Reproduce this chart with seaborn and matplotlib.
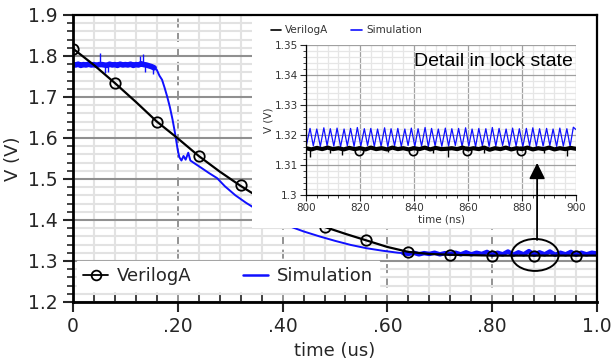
import numpy as np
import matplotlib
matplotlib.use("Agg")
import matplotlib.pyplot as plt
from matplotlib.lines import Line2D
from matplotlib.patches import Rectangle, Ellipse
from matplotlib.ticker import MultipleLocator
import seaborn as sns

# --- dane: glowny wykres (czas w us, napiecie w V) ---
va_t = [0.0, 0.04, 0.08, 0.12, 0.16, 0.20, 0.24, 0.28, 0.32, 0.34, 0.36, 0.40, 0.44,
        0.48, 0.52, 0.56, 0.60, 0.64, 0.68, 0.72, 0.76, 0.80, 0.84, 0.88, 0.92, 0.96, 1.0]
va_v = [1.818, 1.778, 1.734, 1.688, 1.640, 1.599, 1.556, 1.518, 1.483, 1.467, 1.452, 1.424, 1.402,
        1.383, 1.366, 1.350, 1.334, 1.322, 1.317, 1.315, 1.314, 1.313, 1.313, 1.313, 1.313, 1.313, 1.313]
# kolka na krzywej VerilogA
va_mark_t = [0.0, 0.08, 0.16, 0.24, 0.32, 0.48, 0.56, 0.64, 0.72, 0.80, 0.88, 0.96]
va_mark_v = [1.817, 1.734, 1.640, 1.556, 1.484, 1.383, 1.350, 1.322, 1.315, 1.313, 1.313, 1.313]

# symulacja: plaski, zaszumiony odcinek
sim_flat_t = [0.000, 0.005, 0.010, 0.015, 0.020, 0.025, 0.030, 0.035, 0.040, 0.045, 0.050,
              0.055, 0.060, 0.065, 0.070, 0.075, 0.080, 0.085, 0.090, 0.095, 0.100, 0.105,
              0.110, 0.115, 0.120, 0.125, 0.130, 0.135, 0.140, 0.145, 0.150, 0.155]
sim_flat_v = [1.779, 1.778, 1.780, 1.777, 1.779, 1.778, 1.780, 1.778, 1.779, 1.777, 1.779,
              1.779, 1.778, 1.777, 1.780, 1.778, 1.779, 1.777, 1.780, 1.778, 1.779, 1.778,
              1.780, 1.777, 1.779, 1.778, 1.781, 1.779, 1.778, 1.776, 1.774, 1.771]
# pojedyncze szpilki szumu (czas, od, do)
sim_spike_t = [0.052, 0.062, 0.066, 0.128, 0.133, 0.137, 0.152]
sim_spike_lo = [1.780, 1.758, 1.760, 1.780, 1.780, 1.760, 1.756]
sim_spike_hi = [1.808, 1.776, 1.776, 1.800, 1.805, 1.776, 1.772]
# symulacja: spadek
sim_drop_t = [0.155, 0.160, 0.165, 0.170, 0.175, 0.180, 0.185, 0.190, 0.195, 0.200, 0.203, 0.207,
              0.211, 0.215, 0.220, 0.224, 0.232, 0.245, 0.260, 0.275, 0.290, 0.310, 0.330, 0.345,
              0.380, 0.410, 0.440, 0.470, 0.500, 0.530, 0.560, 0.590, 0.620, 0.630]
sim_drop_v = [1.771, 1.766, 1.752, 1.742, 1.722, 1.700, 1.675, 1.645, 1.610, 1.570, 1.553, 1.545,
              1.556, 1.547, 1.564, 1.545, 1.538, 1.527, 1.514, 1.502, 1.482, 1.460, 1.442, 1.430,
              1.405, 1.386, 1.372, 1.360, 1.349, 1.339, 1.331, 1.325, 1.320, 1.319]
# symulacja: stan zatrzasniecia, zaszumiony
sim_lock_t = [0.63, 0.64, 0.65, 0.66, 0.67, 0.68, 0.69, 0.70, 0.71, 0.72, 0.73, 0.74, 0.75, 0.76,
              0.77, 0.78, 0.79, 0.80, 0.81, 0.82, 0.83, 0.84, 0.85, 0.86, 0.87, 0.88, 0.89, 0.90,
              0.91, 0.92, 0.93, 0.94, 0.95, 0.96, 0.97, 0.98, 0.99, 1.00]
sim_lock_v = [1.319, 1.317, 1.320, 1.316, 1.319, 1.317, 1.320, 1.316, 1.319, 1.317, 1.320, 1.316,
              1.321, 1.316, 1.320, 1.317, 1.322, 1.315, 1.320, 1.316, 1.323, 1.315, 1.321, 1.316,
              1.324, 1.315, 1.321, 1.316, 1.323, 1.315, 1.320, 1.316, 1.322, 1.315, 1.320, 1.316,
              1.320, 1.318]

main_xticks = [0.0, 0.2, 0.4, 0.6, 0.8, 1.0]
main_xtick_labels = ["0", ".20", ".40", ".60", ".80", "1.0"]
main_yticks = [1.2, 1.3, 1.4, 1.5, 1.6, 1.7, 1.8, 1.9]
main_ytick_labels = ["1.2", "1.3", "1.4", "1.5", "1.6", "1.7", "1.8", "1.9"]

# --- dane: powiekszenie (czas w ns) ---
in_va_t = [800, 802, 804, 806, 808, 810, 812, 814, 816, 818, 820, 822, 824, 826, 828, 830, 832,
           834, 836, 838, 840, 842, 844, 846, 848, 850, 852, 854, 856, 858, 860, 862, 864, 866,
           868, 870, 872, 874, 876, 878, 880, 882, 884, 886, 888, 890, 892, 894, 896, 898, 900]
in_va_v = [1.3156, 1.3152, 1.3157, 1.3153, 1.3158, 1.3153, 1.3156, 1.3152, 1.3157, 1.3153,
           1.3156, 1.3152, 1.3158, 1.3153, 1.3156, 1.3152, 1.3158, 1.3153, 1.3156, 1.3152,
           1.3156, 1.3153, 1.3158, 1.3152, 1.3157, 1.3153, 1.3154, 1.3156, 1.3153, 1.3158,
           1.3152, 1.3156, 1.3153, 1.3158, 1.3151, 1.3156, 1.3153, 1.3158, 1.3152, 1.3156,
           1.3153, 1.3158, 1.3152, 1.3156, 1.3153, 1.3158, 1.3152, 1.3156, 1.3153, 1.3157, 1.3154]
in_va_mark_t = [819.5, 839.5, 859.5, 879.5]
in_va_mark_v = [1.3147, 1.3147, 1.3147, 1.3147]
in_spike_t = [801.5, 809.0, 813.5, 830.5, 847.0, 852.5, 866.0, 888.0, 896.5]
in_spike_lo = [1.3128, 1.3140, 1.3132, 1.3142, 1.3140, 1.3126, 1.3141, 1.3141, 1.3131]

in_sim_t = [800.0, 801.5, 802.7, 804.0, 805.3, 806.6, 807.8, 809.0, 810.3, 811.5, 812.8, 814.1,
            815.3, 816.5, 817.8, 819.0, 820.3, 821.6, 822.8, 824.0, 825.3, 826.5, 827.8, 829.1,
            830.3, 831.5, 832.8, 834.0, 835.3, 836.6, 837.8, 839.0, 840.3, 841.5, 842.8, 844.1,
            845.3, 846.5, 847.8, 849.0, 850.3, 851.6, 852.8, 854.0, 855.3, 856.5, 857.8, 859.1,
            860.3, 861.5, 862.8, 864.0, 865.3, 866.6, 867.8, 869.0, 870.3, 871.5, 872.8, 874.1,
            875.3, 876.5, 877.8, 879.0, 880.3, 881.6, 882.8, 884.0, 885.3, 886.5, 887.8, 889.1,
            890.3, 891.5, 892.8, 894.0, 895.3, 896.6, 897.8, 899.0, 900.0]
in_sim_v = [1.3160, 1.3222, 1.3164, 1.3220, 1.3162, 1.3224, 1.3165, 1.3221, 1.3163, 1.3223,
            1.3161, 1.3220, 1.3164, 1.3222, 1.3162, 1.3225, 1.3163, 1.3221, 1.3165, 1.3222,
            1.3162, 1.3220, 1.3163, 1.3224, 1.3161, 1.3221, 1.3164, 1.3222, 1.3162, 1.3220,
            1.3165, 1.3223, 1.3162, 1.3221, 1.3163, 1.3225, 1.3161, 1.3222, 1.3164, 1.3220,
            1.3162, 1.3223, 1.3163, 1.3221, 1.3165, 1.3222, 1.3162, 1.3224, 1.3163, 1.3220,
            1.3161, 1.3222, 1.3164, 1.3221, 1.3162, 1.3225, 1.3163, 1.3222, 1.3165, 1.3220,
            1.3162, 1.3223, 1.3163, 1.3221, 1.3161, 1.3222, 1.3164, 1.3224, 1.3162, 1.3221,
            1.3163, 1.3222, 1.3165, 1.3220, 1.3162, 1.3223, 1.3163, 1.3221, 1.3162, 1.3226,
            1.3218]

in_xticks = [800, 820, 840, 860, 880, 900]
in_xtick_labels = ["800", "820", "840", "860", "880", "900"]
in_yticks = [1.30, 1.31, 1.32, 1.33, 1.34, 1.35]
in_ytick_labels = ["1.3", "1.31", "1.32", "1.33", "1.34", "1.35"]

sns.set_style("white")
plt.rcParams['font.family'] = ['DejaVu Sans']

BLUE = '#1010ff'

fig = plt.figure(figsize=(6.13, 3.62), dpi=100)
ax = fig.add_axes([0.119, 0.166, 0.855, 0.7926])

# glowny wykres - symulacja (szum jako grubsza linia)
sns.lineplot(x=sim_flat_t, y=sim_flat_v, ax=ax, color=BLUE, lw=4.0, estimator=None, sort=False, legend=False)
ax.vlines(sim_spike_t, sim_spike_lo, sim_spike_hi, color=BLUE, lw=1.0)
sns.lineplot(x=sim_drop_t, y=sim_drop_v, ax=ax, color=BLUE, lw=1.4, estimator=None, sort=False, legend=False)
sns.lineplot(x=sim_lock_t, y=sim_lock_v, ax=ax, color=BLUE, lw=3.2, estimator=None, sort=False, legend=False)
# VerilogA
sns.lineplot(x=va_t, y=va_v, ax=ax, color='black', lw=1.6, estimator=None, sort=False, legend=False)
ax.plot(va_mark_t, va_mark_v, 'o', markersize=7.5, markerfacecolor='none',
        markeredgecolor='black', markeredgewidth=1.3)

ax.set_xlim(0, 1.0)
ax.set_ylim(1.2, 1.9)
ax.set_xticks(main_xticks)
ax.set_xticklabels(main_xtick_labels)
ax.set_yticks(main_yticks)
ax.set_yticklabels(main_ytick_labels)
ax.xaxis.set_minor_locator(MultipleLocator(0.04))
ax.yaxis.set_minor_locator(MultipleLocator(0.02))
ax.tick_params(axis='both', which='major', labelsize=13.5, direction='out', length=7, width=1.5,
               left=True, bottom=True, pad=4)
ax.tick_params(axis='x', which='minor', direction='in', length=6, width=1.2, bottom=True)
ax.tick_params(axis='y', which='minor', direction='out', length=4, width=1.2, left=True)
ax.set_axisbelow(True)
ax.xaxis.grid(True, which='minor', color='#e2e2e2', lw=1.5)
ax.yaxis.grid(True, which='minor', color='#e2e2e2', lw=1.5)
ax.xaxis.grid(True, which='major', color='#8a8a8a', lw=1.3, linestyle=(0, (5, 3)))
ax.yaxis.grid(True, which='major', color='#909090', lw=1.5)
for s in ['left', 'bottom']:
    ax.spines[s].set_linewidth(2.0)
for s in ['top', 'right']:
    ax.spines[s].set_linewidth(1.6)
for s in ax.spines.values():
    s.set_color('black')
    s.set_zorder(6)
ax.set_xlabel('time (us)', fontsize=13)
ax.set_ylabel('V (V)', fontsize=13, labelpad=4)

# biale tlo pod powiekszeniem
ax.add_patch(Rectangle((0.3416, 1.38), 1.0 - 0.3416, 0.52, facecolor='white', edgecolor='none', zorder=4))

# elipsa wokol fragmentu
ax.add_patch(Ellipse((0.8817, 1.3146), 0.09, 0.078, facecolor='none', edgecolor='black', lw=1.4, zorder=7))

h_va = Line2D([], [], color='black', lw=1.3, marker='o', markersize=7, markerfacecolor='none',
              markeredgewidth=1.3)
h_sim = Line2D([], [], color=BLUE, lw=1.8)
leg = ax.legend([h_va, h_sim], ['VerilogA', 'Simulation'], loc='lower left',
                bbox_to_anchor=(-0.01, 0.005), ncol=2, fontsize=13, frameon=True,
                facecolor='white', edgecolor='white', framealpha=1, fancybox=False,
                handlelength=1.4, handletextpad=0.5, columnspacing=2.8, borderpad=0.35)
leg.set_zorder(8)

# powiekszenie
ax_in = fig.add_axes([0.4992, 0.4613, 0.4405, 0.4144])
ax_in.set_facecolor('white')
sns.lineplot(x=in_sim_t, y=in_sim_v, ax=ax_in, color=BLUE, lw=0.9, estimator=None, sort=False, legend=False)
ax_in.plot(in_va_mark_t, in_va_mark_v, 'o', markersize=6, markerfacecolor='none',
           markeredgecolor='black', markeredgewidth=1.2)
sns.lineplot(x=in_va_t, y=in_va_v, ax=ax_in, color='black', lw=3.0, estimator=None, sort=False, legend=False)
ax_in.vlines(in_spike_t, in_spike_lo, [1.3154] * len(in_spike_t), color='black', lw=1.0)
ax_in.set_xlim(800, 900)
ax_in.set_ylim(1.30, 1.35)
ax_in.set_xticks(in_xticks)
ax_in.set_xticklabels(in_xtick_labels)
ax_in.set_yticks(in_yticks)
ax_in.set_yticklabels(in_ytick_labels)
ax_in.xaxis.set_minor_locator(MultipleLocator(4))
ax_in.yaxis.set_minor_locator(MultipleLocator(0.002))
ax_in.tick_params(axis='both', which='major', labelsize=7.5, labelcolor='#333333', direction='out',
                  length=4, width=0.8, left=True, bottom=True, pad=2)
ax_in.tick_params(axis='both', which='minor', direction='out', length=2, width=0.6, left=True, bottom=True)
ax_in.set_axisbelow(True)
ax_in.grid(True, which='minor', color='#e6e6e6', lw=0.9)
ax_in.grid(True, which='major', color='#a0a0a0', lw=0.9)
ax_in.spines['left'].set_color('black')
ax_in.spines['bottom'].set_color('black')
ax_in.spines['left'].set_linewidth(0.9)
ax_in.spines['bottom'].set_linewidth(0.9)
ax_in.spines['top'].set_visible(False)
ax_in.spines['right'].set_visible(False)
ax_in.set_xlabel('time (ns)', fontsize=7.5, color='#333333', labelpad=1)
ax_in.set_ylabel('V (V)', fontsize=7.5, color='#333333', labelpad=1)
ax_in.text(0.99, 0.89, 'Detail in lock state', transform=ax_in.transAxes, ha='right', va='center',
           fontsize=14, family=['Liberation Sans', 'DejaVu Sans'], color='black')

h_va2 = Line2D([], [], color='black', lw=1.2)
h_sim2 = Line2D([], [], color=BLUE, lw=1.2)
ax_in.legend([h_va2, h_sim2], ['VerilogA', 'Simulation'], loc='lower left',
             bbox_to_anchor=(-0.15, 1.03), ncol=2, fontsize=7.5, frameon=False,
             handlelength=1.0, handletextpad=0.4, columnspacing=2.2, borderpad=0,
             labelcolor='#333333')

# strzalka od elipsy do powiekszenia
ax_in.annotate('', xy=(885.6, 1.3107), xycoords='data', xytext=(0.8855, 1.351),
               textcoords=ax.transData,
               arrowprops=dict(arrowstyle='-|>', mutation_scale=24, lw=1.3, color='black',
                               shrinkA=0, shrinkB=0))

fig.savefig('out.png', dpi=100, facecolor='white')
